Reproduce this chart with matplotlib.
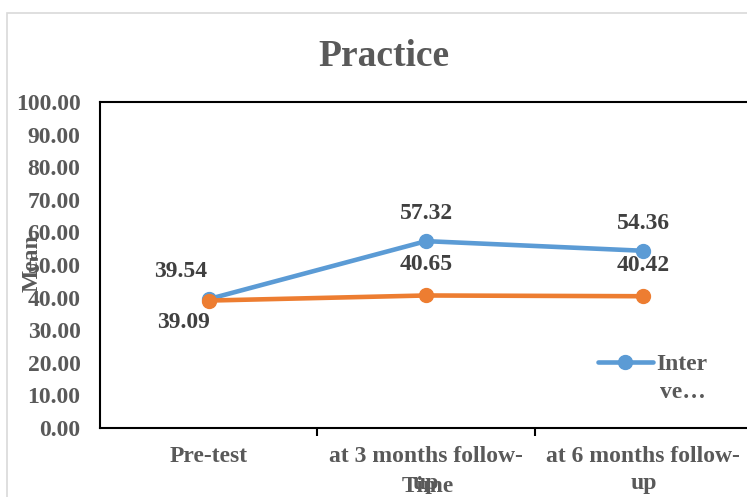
import matplotlib.pyplot as plt
from matplotlib.patches import Rectangle

# data
categories = ["Pre-test", "at 3 months follow-\nup", "at 6 months follow-\nup"]
intervention = [39.54, 57.32, 54.36]
control = [39.09, 40.65, 40.42]
y_ticks = [0, 10, 20, 30, 40, 50, 60, 70, 80, 90, 100]

grey = "#595959"
dark = "#404040"
blue = "#5B9BD5"
orange = "#ED7D31"

plt.rcParams["font.family"] = ["Liberation Serif", "DejaVu Serif"]
plt.rcParams["font.weight"] = "bold"

W, H = 747, 497
fig = plt.figure(figsize=(W / 100, H / 100), dpi=100)

# chart border (light grey, runs off the right/bottom)
fig.patches.append(Rectangle((7 / W, -0.1), 1.2, 1 - 13 / H + 0.1, transform=fig.transFigure,
                             fill=False, edgecolor="#d9d9d9", linewidth=1.2))

# plot area: left 100px, right ~752px, top 102px, bottom 428px
ax = fig.add_axes([100 / W, 1 - 428 / H, (752 - 100) / W, (428 - 102) / H])

x = list(range(len(categories)))
ax.plot(x, intervention, color=blue, linewidth=3.3, marker="o", markersize=10,
        label="Inter", solid_capstyle="round", zorder=3)
ax.plot(x, control, color=orange, linewidth=3.3, marker="o", markersize=10,
        solid_capstyle="round", zorder=4)

# data labels
for i, v in enumerate(intervention):
    dx = -20 if i == 0 else 0
    ax.annotate(f"{v:.2f}", (i, v), xytext=(dx, 20), textcoords="offset points",
                ha="center", va="center", fontsize=17, fontweight="bold", color=dark)
for i, v in enumerate(control):
    if i == 0:
        dx, dy = -18, -16
    else:
        dx, dy = 0, 22
    ax.annotate(f"{v:.2f}", (i, v), xytext=(dx, dy), textcoords="offset points",
                ha="center", va="center", fontsize=17, fontweight="bold", color=dark)

ax.set_xlim(-0.5, 2.5)
ax.set_ylim(0, 100)
ax.set_yticks(y_ticks)
ax.set_yticklabels([f"{t:.2f}" for t in y_ticks], fontsize=17, fontweight="bold", color=grey)
ax.tick_params(axis="y", length=0, pad=14)

ax.set_xticks(x)
ax.set_xticklabels(categories, fontsize=17, fontweight="bold", color=grey, linespacing=1.4)
ax.tick_params(axis="x", length=0, pad=13)
ax.set_xticks([0.5, 1.5], minor=True)
ax.tick_params(axis="x", which="minor", length=6, width=1.5, direction="out", color="black")

for s in ax.spines.values():
    s.set_color("black")
    s.set_linewidth(1.5)

fig.text(384 / W, 1 - 57 / H, "Practice", ha="center", va="center",
         fontsize=27, fontweight="bold", color=grey)
fig.text(32 / W, 1 - 263 / H, "Mean", ha="center", va="center", rotation=90,
         fontsize=17, fontweight="bold", color=grey)
fig.text(428 / W, 1 - 486 / H, "Time", ha="center", va="center",
         fontsize=17, fontweight="bold", color=grey)

# legend (label truncated and wrapped as in the original)
fig.legend(loc="upper left", bbox_to_anchor=(577 / W, 1 - 332 / H), frameon=False,
           handlelength=2.3, handletextpad=0.15, labelcolor=grey,
           prop={"weight": "bold", "size": 17})
fig.text(683 / W, 1 - 392 / H, "ve…", ha="center", va="center",
         fontsize=17, fontweight="bold", color=grey)

fig.savefig("out.png", dpi=100)
